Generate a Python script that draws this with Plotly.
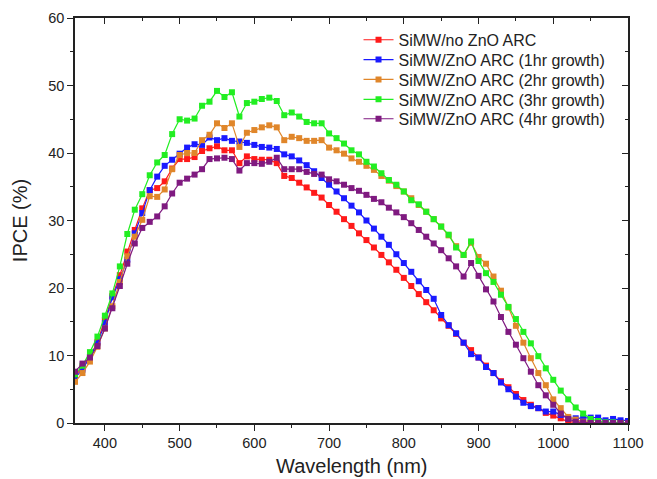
import plotly.graph_objects as go

# wavelength samples (nm), one point every 10 nm
wavelength = list(range(360, 1101, 10))

no_zno = [7.0, 8.2, 9.8, 12.0, 15.3, 18.8, 21.9, 25.4, 28.6, 31.8,
          34.5, 34.8, 35.8, 37.7, 39.1, 39.1, 39.4, 40.3, 40.7, 41.0,
          40.4, 40.4, 38.5, 39.5, 39.1, 39.0, 39.0, 38.5, 36.6, 36.3,
          35.6, 34.9, 34.1, 33.4, 32.3, 31.3, 30.2, 29.2, 28.1, 27.1,
          26.0, 24.9, 23.8, 22.7, 21.5, 20.3, 19.1, 17.9, 16.7, 15.5,
          14.4, 13.2, 11.9, 10.8, 9.7, 8.5, 7.4, 6.2, 5.3, 4.3,
          3.4, 2.7, 2.2, 1.5, 1.1, 0.7, 0.2, 0.1, 0.0, 0.0,
          0.0, 0.0, 0.0, 0.0, 0.0]

zno_1hr = [6.7, 7.9, 9.8, 11.8, 14.8, 18.6, 21.3, 24.2, 28.1, 31.1,
           34.5, 36.5, 38.1, 39.0, 39.9, 40.8, 41.3, 41.2, 42.3, 41.9,
           42.2, 41.8, 41.7, 41.5, 41.2, 40.9, 40.8, 40.6, 39.8, 39.5,
           38.9, 38.2, 37.3, 36.3, 35.3, 34.3, 33.3, 32.2, 31.2, 30.0,
           28.8, 27.6, 26.4, 25.0, 23.7, 22.4, 21.0, 19.7, 18.4, 16.0,
           14.5, 13.3, 11.9, 10.2, 9.7, 8.3, 7.4, 6.0, 5.0, 3.9,
           3.0, 2.5, 2.2, 1.7, 1.7, 1.2, 0.7, 0.7, 0.8, 0.8,
           0.8, 0.4, 0.6, 0.4, 0.3]

zno_2hr = [6.1, 7.4, 9.1, 11.3, 14.0, 17.3, 20.9, 24.7, 27.6, 30.1,
           33.6, 33.5, 34.6, 37.6, 39.7, 40.0, 40.0, 41.9, 42.7, 44.4,
           43.7, 44.4, 40.9, 43.0, 43.4, 43.8, 44.1, 43.8, 41.9, 42.4,
           42.2, 41.8, 41.8, 41.9, 40.8, 40.4, 39.9, 39.2, 38.7, 38.1,
           37.5, 36.6, 35.9, 35.1, 34.3, 33.3, 32.3, 31.3, 30.2, 29.1,
           27.8, 26.2, 24.9, 26.7, 24.6, 23.6, 21.7, 19.6, 17.1, 14.4,
           11.9, 9.6, 7.4, 5.6, 3.5, 2.2, 0.9, 0.5, 0.2, 0.1,
           0.0, 0.0, 0.0, 0.0, 0.0]

zno_3hr = [7.2, 8.5, 10.5, 12.8, 15.9, 19.2, 23.2, 28.0, 31.6, 33.9,
           36.7, 38.6, 39.7, 42.8, 45.0, 44.8, 45.1, 47.0, 47.6, 49.2,
           48.3, 49.0, 45.4, 47.4, 47.6, 48.0, 48.2, 47.7, 45.6, 46.0,
           45.4, 44.6, 44.4, 44.4, 42.9, 42.2, 41.4, 40.4, 39.8, 38.7,
           38.0, 37.0, 36.0, 35.3, 34.3, 33.0, 32.4, 31.3, 30.2, 29.1,
           27.9, 26.0, 24.9, 26.9, 24.0, 22.2, 20.9, 19.0, 17.2, 15.4,
           13.5, 11.8, 9.9, 8.1, 6.4, 4.8, 3.5, 2.3, 1.4, 0.6,
           0.3, 0.1, 0.1, 0.0, 0.0]

zno_4hr = [7.6, 8.8, 9.7, 11.4, 14.0, 17.0, 20.3, 23.6, 26.6, 28.9,
           29.8, 30.6, 32.1, 34.0, 35.6, 36.2, 36.8, 37.6, 39.1, 39.2,
           39.3, 39.1, 37.4, 38.5, 38.5, 38.4, 38.7, 39.3, 37.6, 37.6,
           37.6, 37.2, 36.9, 36.8, 36.1, 35.8, 35.3, 34.8, 34.4, 33.8,
           33.2, 32.7, 31.9, 31.2, 30.5, 29.6, 28.6, 27.6, 26.6, 25.6,
           24.4, 23.2, 21.7, 23.7, 21.8, 19.8, 18.0, 15.7, 13.5, 11.6,
           9.6, 7.6, 5.6, 4.1, 2.7, 1.4, 0.6, 0.2, 0.1, 0.0,
           0.0, 0.0, 0.0, 0.0, 0.0]

series = [
    ("SiMW/no ZnO ARC", no_zno, "#ff1a1a"),
    ("SiMW/ZnO ARC (1hr growth)", zno_1hr, "#1a1aff"),
    ("SiMW/ZnO ARC (2hr growth)", zno_2hr, "#e0862a"),
    ("SiMW/ZnO ARC (3hr growth)", zno_3hr, "#22ee22"),
    ("SiMW/ZnO ARC (4hr growth)", zno_4hr, "#7f1a80"),
]

font_family = "Liberation Sans, Arial, sans-serif"
# one small legend per series so the rows can sit closer than plotly's default spacing
legend_rows = [0.946, 0.897, 0.848, 0.799, 0.751]

fig = go.Figure()

for i, (name, vals, color) in enumerate(series):
    lg = "legend" if i == 0 else f"legend{i + 1}"
    fig.add_trace(go.Scatter(
        x=wavelength, y=vals, name=name,
        mode="lines+markers",
        line=dict(color=color, width=1.2),
        marker=dict(symbol="square", size=6, color=color),
        legend=lg,
    ))

# invisible copy on the overlay axes so the top/right frame with inward ticks is drawn
fig.add_trace(go.Scatter(
    x=wavelength, y=zno_3hr, xaxis="x2", yaxis="y2",
    mode="lines", line=dict(width=0), opacity=0,
    showlegend=False, hoverinfo="skip",
))

axis_common = dict(
    showline=True, linecolor="#222", linewidth=1.6,
    showgrid=False, zeroline=False, automargin=False,
    tickcolor="#222", tickwidth=1.4,
    tickfont=dict(family=font_family, size=14.5, color="#222"),
)

legends = {}
for i, yrow in enumerate(legend_rows):
    key = "legend" if i == 0 else f"legend{i + 1}"
    legends[key] = dict(
        x=0.5127, y=yrow, xanchor="left", yanchor="middle",
        bgcolor="rgba(0,0,0,0)", borderwidth=0,
        font=dict(family=font_family, size=16, color="#222"),
        itemwidth=30,
    )

# the page body adds an 8px offset, so the margins are shifted to compensate
fig.update_layout(
    width=641, height=471,
    margin=dict(l=67, r=21, t=10, b=56),
    paper_bgcolor="white", plot_bgcolor="white",
    font=dict(family=font_family, color="#222"),
    xaxis=dict(
        range=[360, 1100], dtick=100, ticks="outside", ticklen=6,
        minor=dict(dtick=50, ticks="outside", ticklen=3, tickcolor="#222"),
        **axis_common,
    ),
    yaxis=dict(
        range=[0, 60], dtick=10, ticks="outside", ticklen=6,
        minor=dict(dtick=5, ticks="outside", ticklen=3, tickcolor="#222"),
        title=dict(text="IPCE (%)", font=dict(size=20), standoff=15),
        **axis_common,
    ),
    xaxis2=dict(
        overlaying="x", side="top", matches="x", range=[360, 1100],
        dtick=100, ticks="inside", ticklen=6, showticklabels=False,
        minor=dict(dtick=50, ticks="inside", ticklen=3, tickcolor="#222"),
        **axis_common,
    ),
    yaxis2=dict(
        overlaying="y", side="right", matches="y", range=[0, 60],
        dtick=10, ticks="inside", ticklen=6, showticklabels=False,
        minor=dict(dtick=5, ticks="inside", ticklen=3, tickcolor="#222"),
        **axis_common,
    ),
    showlegend=True,
    **legends,
)

# x title as an annotation so it can sit a bit lower than plotly puts it
fig.add_annotation(
    text="Wavelength (nm)", xref="paper", yref="paper",
    x=0.5, y=-0.107, xanchor="center", yanchor="middle",
    showarrow=False, font=dict(family=font_family, size=20, color="#222"),
)

fig.write_html("out.html")
